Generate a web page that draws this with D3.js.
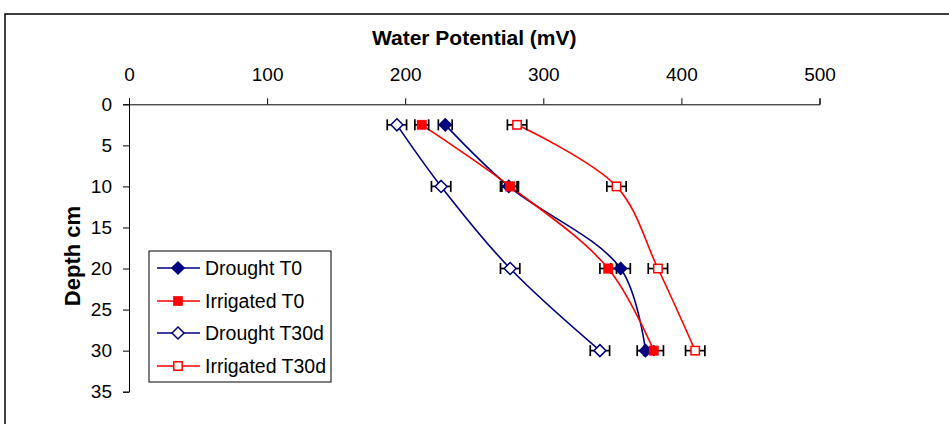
<!DOCTYPE html>
<html>
<head>
<meta charset="utf-8">
<script src="https://cdn.jsdelivr.net/npm/d3@7"></script>
<style>
  html, body { margin: 0; padding: 0; background: #fff; }
  svg { display: block; font-family: "Liberation Sans", Arial, sans-serif; }
</style>
</head>
<body>
<svg id="chart" width="949" height="424"></svg>
<script>
// ---- data ----
const depths = [2.5, 10, 20, 30];
const droughtT0 = [229, 275, 356, 374];
const irrigatedT0 = [212, 276, 347, 380];
const droughtT30d = [194, 226, 276, 341];
const irrigatedT30d = [281, 353, 383, 410];
const errDroughtT0 = [5, 6, 7, 6];
const errIrrigatedT0 = [5, 6, 6, 7];
const errDroughtT30d = [7, 7, 7, 7];
const errIrrigatedT30d = [7, 7, 7, 7];
const seriesNames = ["Drought T0", "Irrigated T0", "Drought T30d", "Irrigated T30d"];
const xTicks = [0, 100, 200, 300, 400, 500];
const yTicks = [0, 5, 10, 15, 20, 25, 30, 35];

const series = [
  { name: seriesNames[0], values: droughtT0, err: errDroughtT0, color: "#000080", shape: "diamond", filled: true },
  { name: seriesNames[1], values: irrigatedT0, err: errIrrigatedT0, color: "#FF0000", shape: "square", filled: true },
  { name: seriesNames[2], values: droughtT30d, err: errDroughtT30d, color: "#000080", shape: "diamond", filled: false },
  { name: seriesNames[3], values: irrigatedT30d, err: errIrrigatedT30d, color: "#FF0000", shape: "square", filled: false }
];

const svg = d3.select("#chart");
const x = d3.scaleLinear().domain([0, 500]).range([129, 819.5]);
const y = d3.scaleLinear().domain([0, 35]).range([104.3, 391.7]);

// outer frame (top and left edges visible)
svg.append("path").attr("d", "M5,424 L5,14 L949,14")
  .attr("fill", "none").attr("stroke", "#000").attr("stroke-width", 1.5);

// axes
const xAxis = d3.axisTop(x).tickValues(xTicks).tickSize(6).tickPadding(17).tickFormat(d3.format("d"));
const gx = svg.append("g").attr("transform", `translate(0,${y(0)})`).call(xAxis);
const yAxis = d3.axisLeft(y).tickValues(yTicks).tickSize(6).tickPadding(11).tickFormat(d3.format("d"));
const gy = svg.append("g").attr("transform", `translate(${x(0)},0)`).call(yAxis);
[gx, gy].forEach(g => {
  g.select(".domain").attr("stroke", "#000").attr("stroke-width", 1);
  g.selectAll(".tick line").attr("stroke", "#000");
  g.selectAll("text").attr("font-size", 19).attr("fill", "#000").attr("font-family", "Liberation Sans, Arial, sans-serif");
});

// titles
svg.append("text").attr("x", (x(0) + x(500)) / 2).attr("y", 45)
  .attr("text-anchor", "middle").attr("font-weight", "bold").attr("font-size", 21)
  .text("Water Potential (mV)");
svg.append("text").attr("transform", `translate(80,${(y(0) + y(35)) / 2 + 8}) rotate(-90)`)
  .attr("text-anchor", "middle").attr("font-weight", "bold").attr("font-size", 22)
  .text("Depth cm");

// lines
const line = d3.line().x(d => x(d[0])).y(d => y(d[1])).curve(d3.curveCatmullRom.alpha(0.5));
series.forEach(s => {
  const pts = s.values.map((v, i) => [v, depths[i]]);
  svg.append("path").attr("d", line(pts)).attr("fill", "none")
    .attr("stroke", s.color).attr("stroke-width", 1.6);
});

// error bars
series.forEach(s => {
  s.values.forEach((v, i) => {
    const yy = y(depths[i]);
    const x1 = x(v - s.err[i]), x2 = x(v + s.err[i]);
    const g = svg.append("g").attr("stroke", "#000").attr("stroke-width", 1.7);
    g.append("line").attr("x1", x1).attr("x2", x2).attr("y1", yy).attr("y2", yy);
    g.append("line").attr("x1", x1).attr("x2", x1).attr("y1", yy - 5.5).attr("y2", yy + 5.5);
    g.append("line").attr("x1", x2).attr("x2", x2).attr("y1", yy - 5.5).attr("y2", yy + 5.5);
  });
});

function drawMarker(g, s, cx, cy) {
  if (s.shape === "diamond") {
    const r = 6;
    g.append("path").attr("d", `M${cx},${cy - r}L${cx + r},${cy}L${cx},${cy + r}L${cx - r},${cy}Z`)
      .attr("fill", s.filled ? s.color : "#fff").attr("stroke", s.color).attr("stroke-width", 1.5);
  } else {
    const h = s.filled ? 4.7 : 4.2;
    g.append("rect").attr("x", cx - h).attr("y", cy - h).attr("width", 2 * h).attr("height", 2 * h)
      .attr("fill", s.filled ? s.color : "#fff").attr("stroke", s.color).attr("stroke-width", s.filled ? 0.5 : 1.5);
  }
}

// markers
series.forEach(s => {
  s.values.forEach((v, i) => drawMarker(svg, s, x(v), y(depths[i])));
});

// legend
const lg = svg.append("g");
lg.append("rect").attr("x", 149).attr("y", 251).attr("width", 182).attr("height", 131)
  .attr("fill", "#fff").attr("stroke", "#000").attr("stroke-width", 1);
const legendY = [268, 301, 333, 366];
series.forEach((s, i) => {
  const ly = legendY[i];
  lg.append("line").attr("x1", 157).attr("x2", 200).attr("y1", ly).attr("y2", ly)
    .attr("stroke", s.color).attr("stroke-width", 1.6);
  drawMarker(lg, s, 178, ly);
  lg.append("text").attr("x", 205).attr("y", ly + 7).attr("font-size", 19.5).attr("fill", "#000")
    .text(s.name);
});
</script>
</body>
</html>
